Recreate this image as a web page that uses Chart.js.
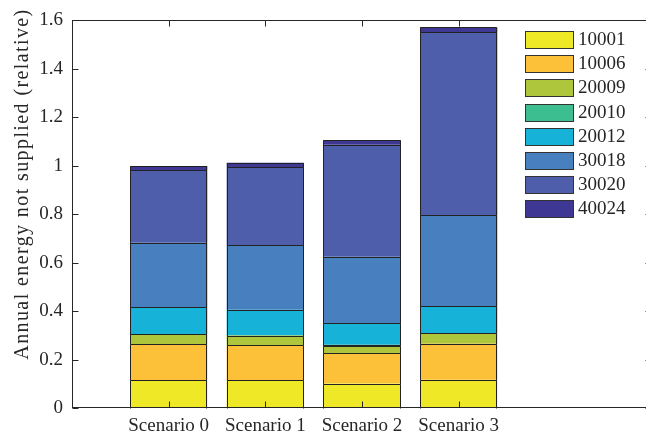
<!DOCTYPE html>
<html>
<head>
<meta charset="utf-8">
<script src="https://cdn.jsdelivr.net/npm/chart.js@4"></script>
<style>
html, body { margin: 0; padding: 0; background: #fff; width: 646px; height: 436px; overflow: hidden; }
#wrap { position: relative; width: 660px; height: 436px; }
#legend { position: absolute; left: 525px; top: 31px; font-family: 'Liberation Serif', serif; font-size: 19px; color: #262626; }
.lg-item { position: absolute; left: 0; height: 18px; white-space: nowrap; }
.lg-sw { position: absolute; left: 0; top: 0; width: 49px; height: 18px; box-sizing: border-box; border: 1px solid #333; }
.lg-tx { position: absolute; left: 53px; top: -1px; line-height: 18px; }
</style>
</head>
<body>
<div id="wrap">
  <canvas id="c"></canvas>
  <div id="legend"></div>
</div>
<script>
// ── DATOS ──
var scenarios = ['Scenario 0', 'Scenario 1', 'Scenario 2', 'Scenario 3'];
var xPos = [1, 2, 3, 4];
var yTicks = [0, 0.2, 0.4, 0.6, 0.8, 1, 1.2, 1.4, 1.6];
var buses = ['10001', '10006', '20009', '20010', '20012', '30018', '30020', '40024'];
var busColors = ['#efe826', '#fcc138', '#adc63b', '#3cbe91', '#17b2d7', '#487fbf', '#4f5eaa', '#3e3794'];

var v10001 = [0.116, 0.116, 0.101, 0.117];
var v10006 = [0.147, 0.142, 0.126, 0.148];
var v20009 = [0.041, 0.041, 0.030, 0.043];
var v20010 = [0, 0, 0.004, 0];
var v20012 = [0.111, 0.107, 0.088, 0.112];
var v30018 = [0.267, 0.267, 0.275, 0.376];
var v30020 = [0.299, 0.321, 0.463, 0.755];
var v40024 = [0.018, 0.018, 0.018, 0.020];

var series = [v10001, v10006, v20009, v20010, v20012, v30018, v30020, v40024];
var yTitle = 'Annual energy not supplied (relative)';
var axisColor = '#262626';
var edgeColor = '#222';

Chart.defaults.font.family = "'Liberation Serif', serif";
Chart.defaults.color = axisColor;

var datasets = buses.map(function(name, i) {
    return {
        label: name,
        data: xPos.map(function(x, j) { return { x: x, y: series[i][j] }; }),
        backgroundColor: busColors[i],
        borderWidth: 0,
        barPercentage: 0.8,
        categoryPercentage: 1
    };
});

// contornos nitidos de cada segmento, caja, ticks hacia adentro y titulo del eje y
var boxPlugin = {
    id: 'boxTicks',
    afterDatasetsDraw: function(chart) {
        var a = chart.chartArea, ctx = chart.ctx;
        var sx = chart.scales.x, sy = chart.scales.y;
        ctx.save();
        ctx.lineWidth = 1;

        // contornos
        ctx.strokeStyle = edgeColor;
        ctx.beginPath();
        chart.data.datasets.forEach(function(ds, i) {
            chart.getDatasetMeta(i).data.forEach(function(el) {
                var p = el.getProps(['x', 'y', 'base', 'width'], true);
                if (Math.abs(p.base - p.y) < 0.3) return;
                var l = Math.round(p.x - p.width / 2) + 0.5;
                var r = Math.round(p.x + p.width / 2) - 0.5;
                var t = Math.round(p.y) + 0.5;
                var b = Math.round(p.base) + 0.5;
                ctx.moveTo(l, b); ctx.lineTo(l, t); ctx.lineTo(r, t); ctx.lineTo(r, b);
            });
        });
        ctx.stroke();

        var L = Math.round(a.left) + 0.5, R = Math.round(a.right) - 0.5;
        var T = Math.round(a.top) + 0.5, B = Math.round(a.bottom) - 0.5;
        ctx.strokeStyle = axisColor;
        ctx.beginPath();
        sy.ticks.forEach(function(t) {
            var y = Math.round(sy.getPixelForValue(t.value)) + 0.5;
            ctx.moveTo(L, y); ctx.lineTo(L + 6, y);
            ctx.moveTo(R, y); ctx.lineTo(R - 6, y);
        });
        sx.ticks.forEach(function(t) {
            var x = Math.round(sx.getPixelForValue(t.value)) + 0.5;
            ctx.moveTo(x, B); ctx.lineTo(x, B - 6);
            ctx.moveTo(x, T); ctx.lineTo(x, T + 6);
        });
        ctx.stroke();
        ctx.strokeRect(L, T, R - L, B - T);

        ctx.translate(28, 184);
        ctx.rotate(-Math.PI / 2);
        ctx.font = "20px 'Liberation Serif', serif";
        if ('letterSpacing' in ctx) ctx.letterSpacing = '1.4px';
        ctx.fillStyle = axisColor;
        ctx.textAlign = 'center';
        ctx.textBaseline = 'alphabetic';
        ctx.fillText(yTitle, 0, 0);
        ctx.restore();
    }
};

var chart = new Chart(document.getElementById('c'), {
    type: 'bar',
    data: { datasets: datasets },
    plugins: [boxPlugin],
    options: {
        responsive: true,
        maintainAspectRatio: false,
        animation: false,
        layout: { padding: { top: 18, right: 8, left: 0, bottom: 0 } },
        plugins: { legend: { display: false }, tooltip: { enabled: false } },
        scales: {
            x: {
                type: 'linear',
                stacked: true,
                offset: false,
                min: 0,
                max: 6,
                grid: { display: false, drawTicks: false },
                border: { display: false },
                afterBuildTicks: function(s) { s.ticks = xPos.map(function(v) { return { value: v }; }); },
                afterFit: function(s) { s.height = 28; },
                ticks: {
                    padding: 7,
                    maxRotation: 0,
                    autoSkip: false,
                    font: { size: 19 },
                    color: axisColor,
                    callback: function(v) { var k = xPos.indexOf(v); return k >= 0 ? scenarios[k] : ''; }
                }
            },
            y: {
                stacked: true,
                min: 0,
                max: 1.6,
                grid: { display: false, drawTicks: false },
                border: { display: false },
                afterBuildTicks: function(s) { s.ticks = yTicks.map(function(v) { return { value: v }; }); },
                afterFit: function(s) { s.width = 72; },
                ticks: {
                    padding: 9,
                    font: { size: 19 },
                    color: axisColor,
                    callback: function(v) { return String(parseFloat(v.toFixed(1))); }
                }
            }
        }
    }
});

// leyenda en HTML, desde los datasets del chart
var lg = document.getElementById('legend');
chart.data.datasets.forEach(function(ds, i) {
    var it = document.createElement('div');
    it.className = 'lg-item';
    it.style.top = (i * 24.2) + 'px';
    it.innerHTML = '<span class="lg-sw" style="background:' + ds.backgroundColor + '"></span>' +
        '<span class="lg-tx">' + ds.label + '</span>';
    lg.appendChild(it);
});
</script>
</body>
</html>
